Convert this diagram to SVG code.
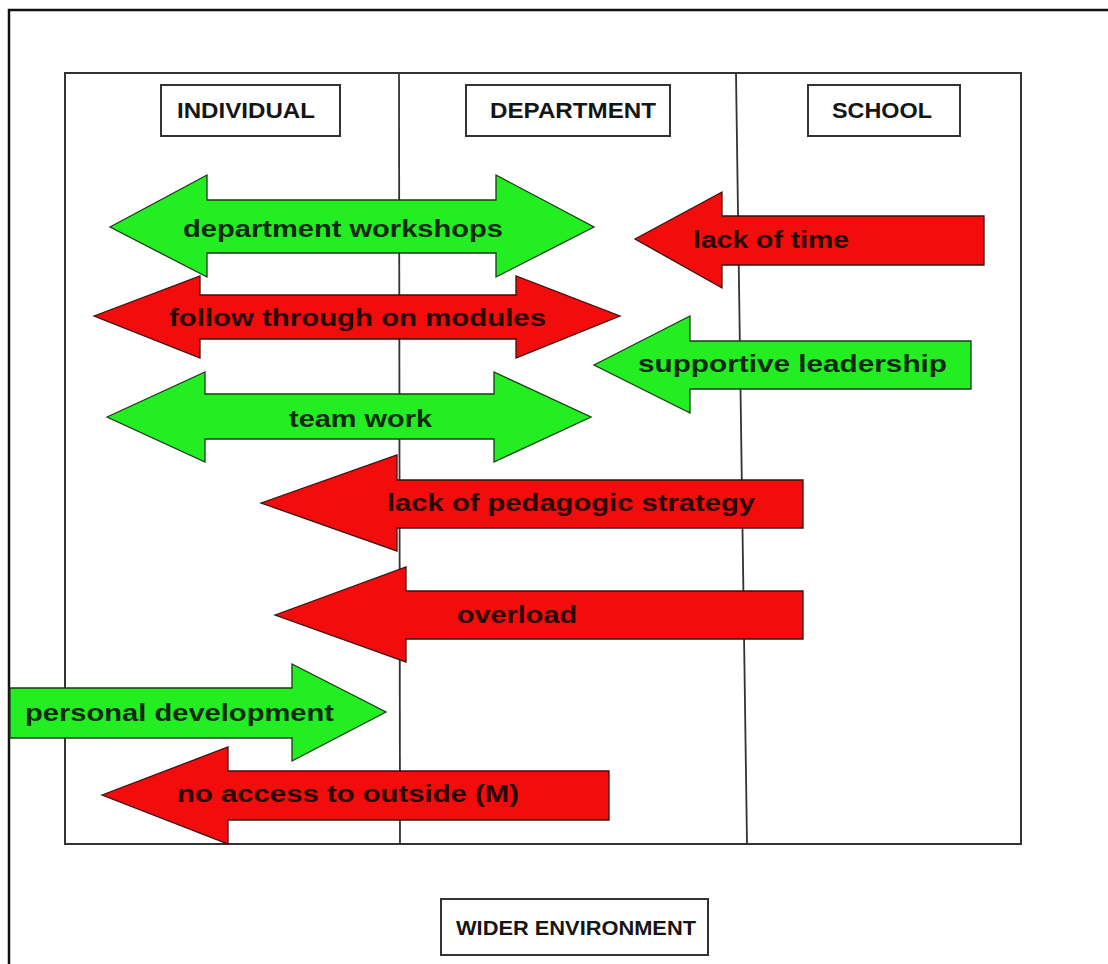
<svg xmlns="http://www.w3.org/2000/svg" width="1108" height="964" viewBox="0 0 1108 964">
<style>
.frame{fill:none;stroke:#111;stroke-width:2.5}
.inner{fill:none;stroke:#333;stroke-width:2}
.div{stroke:#333;stroke-width:1.8;fill:none}
.hbox{fill:#fff;stroke:#333;stroke-width:2}
.htxt{font-family:"Liberation Sans",Arial,sans-serif;font-weight:bold;font-size:22px;fill:#151515}
.g{fill:#22ee22;stroke:#1a3a1a;stroke-width:1.3;stroke-linejoin:miter}
.r{fill:#f20c0c;stroke:#3a1010;stroke-width:1.3;stroke-linejoin:miter}
.gt{font-family:"Liberation Sans",Arial,sans-serif;font-weight:bold;font-size:24px;fill:#0f2a0f}
.rt{font-family:"Liberation Sans",Arial,sans-serif;font-weight:bold;font-size:24px;fill:#2a0505}
</style>
<rect x="0" y="0" width="1108" height="964" fill="#fff"/>
<g id="frame">
  <path class="frame" d="M9,964 V10 H1108"/>
  <rect class="inner" x="65" y="73" width="956" height="771"/>
  <line class="div" x1="399" y1="73" x2="400" y2="844"/>
  <line class="div" x1="736" y1="73" x2="747" y2="844"/>
</g>
<g id="individual">
  <rect class="hbox" x="161" y="85" width="179" height="51"/>
  <text class="htxt" x="177" y="118" textLength="138" lengthAdjust="spacingAndGlyphs">INDIVIDUAL</text>
</g>
<g id="department">
  <rect class="hbox" x="466" y="85" width="204" height="51"/>
  <text class="htxt" x="490" y="118" textLength="166" lengthAdjust="spacingAndGlyphs">DEPARTMENT</text>
</g>
<g id="school">
  <rect class="hbox" x="808" y="85" width="152" height="51"/>
  <text class="htxt" x="832" y="118" textLength="100" lengthAdjust="spacingAndGlyphs">SCHOOL</text>
</g>
<g id="wider-environment">
  <rect class="hbox" x="441" y="899" width="267" height="56"/>
  <text class="htxt" x="456" y="935" font-size="21" textLength="240" lengthAdjust="spacingAndGlyphs" style="font-size:21px">WIDER ENVIRONMENT</text>
</g>
<g id="connectors">
<g id="department-workshops">
  <polygon class="g" points="110,227 207,175 207,200 496,200 496,175 594,227 496,277 496,253 207,253 207,277"/>
  <text class="gt" x="183" y="237" textLength="320" lengthAdjust="spacingAndGlyphs">department workshops</text>
</g>
<g id="follow-through">
  <polygon class="r" points="94,316 200,276 200,295 516,295 516,276 620,316 516,358 516,339 200,339 200,358"/>
  <text class="rt" x="169" y="326" textLength="377" lengthAdjust="spacingAndGlyphs">follow through on modules</text>
</g>
<g id="team-work">
  <polygon class="g" points="107,417 205,372 205,394 494,394 494,372 591,417 494,462 494,439 205,439 205,462"/>
  <text class="gt" x="289" y="427" textLength="143" lengthAdjust="spacingAndGlyphs">team work</text>
</g>
<g id="lack-of-time">
  <polygon class="r" points="635,239 722,192 722,216 984,216 984,265 722,265 722,288"/>
  <text class="rt" x="693" y="248" textLength="156" lengthAdjust="spacingAndGlyphs">lack of time</text>
</g>
<g id="supportive-leadership">
  <polygon class="g" points="594,365 690,316 690,341 971,341 971,389 690,389 690,413"/>
  <text class="gt" x="638" y="372" textLength="309" lengthAdjust="spacingAndGlyphs">supportive leadership</text>
</g>
<g id="lack-of-pedagogic-strategy">
  <polygon class="r" points="261,503 397,455 397,480 803,480 803,528 397,528 397,551"/>
  <text class="rt" x="387" y="511" textLength="368" lengthAdjust="spacingAndGlyphs">lack of pedagogic strategy</text>
</g>
<g id="overload">
  <polygon class="r" points="275,615 406,567 406,591 803,591 803,639 406,639 406,662"/>
  <text class="rt" x="457" y="623" textLength="120" lengthAdjust="spacingAndGlyphs">overload</text>
</g>
<g id="personal-development">
  <polygon class="g" points="10,688 292,688 292,664 386,712 292,761 292,738 10,738"/>
  <text class="gt" x="25" y="721" textLength="309" lengthAdjust="spacingAndGlyphs">personal development</text>
</g>
<g id="no-access-to-outside">
  <polygon class="r" points="102,795 228,747 228,771 609,771 609,820 228,820 228,844"/>
  <text class="rt" x="177" y="802" textLength="342" lengthAdjust="spacingAndGlyphs">no access to outside (M)</text>
</g>
</g>
</svg>
